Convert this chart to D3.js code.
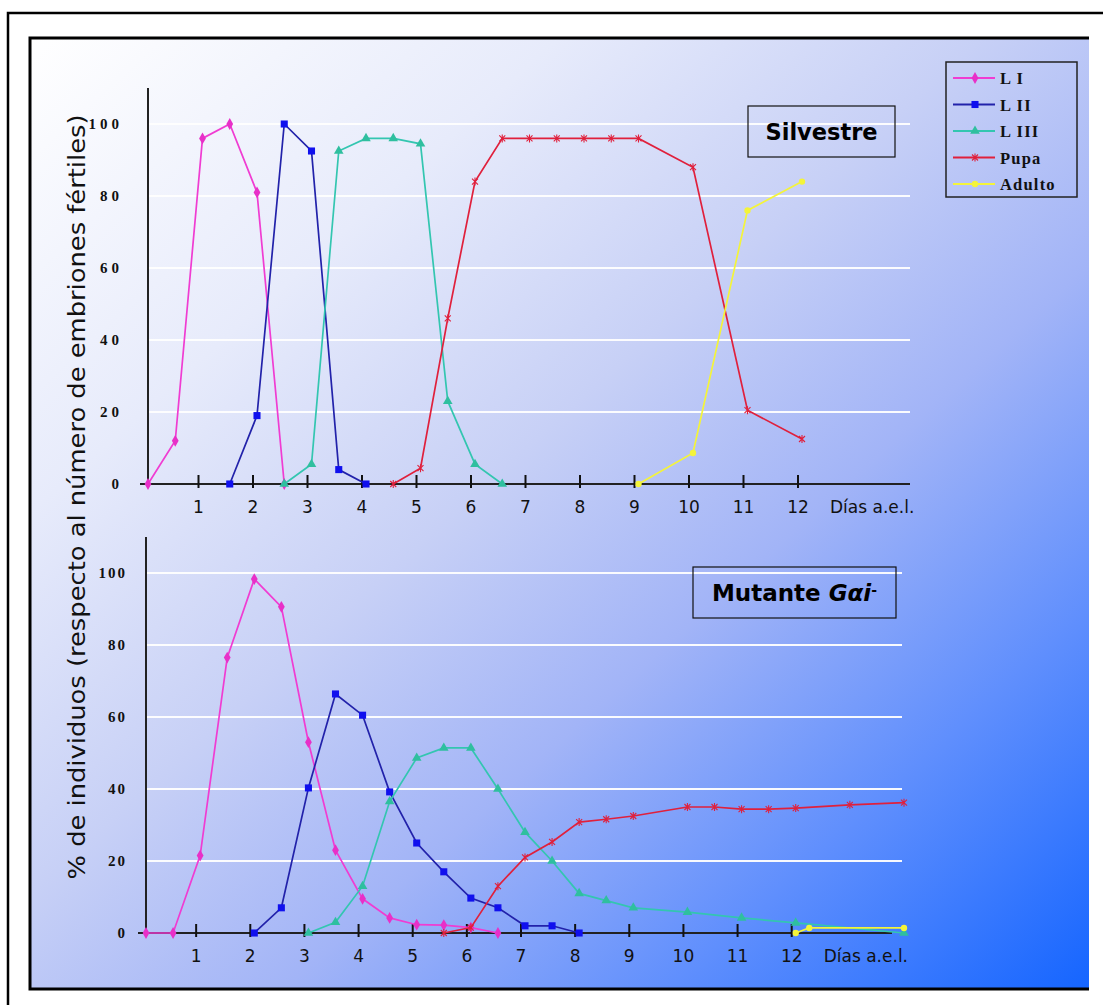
<!DOCTYPE html>
<html>
<head>
<meta charset="utf-8">
<script src="https://cdn.jsdelivr.net/npm/d3@7"></script>
<style>
  body { margin: 0; background: #fff; }
  svg { display: block; }
</style>
</head>
<body>
<div id="chart"></div>
<script>
// [day, percent] pairs
const silvestreLI = [[0, 0], [0.5, 12], [1, 96], [1.5, 100], [2, 81], [2.5, 0]];
const silvestreLII = [[1.5, 0], [2, 19], [2.5, 100], [3, 92.5], [3.5, 4], [4, 0]];
const silvestreLIII = [[2.5, 0], [3, 5.5], [3.5, 92.5], [4, 96], [4.5, 96], [5, 94.5], [5.5, 23], [6, 5.5], [6.5, 0]];
const silvestrePupa = [[4.5, 0], [5, 4.4], [5.5, 46], [6, 84], [6.5, 96], [7, 96], [7.5, 96], [8, 96], [8.5, 96], [9, 96], [10, 88], [11, 20.5], [12, 12.5]];
const silvestreAdulto = [[9, 0], [10, 8.6], [11, 76], [12, 84]];

const mutanteLI = [[0, 0], [0.5, 0], [1, 21.5], [1.5, 76.5], [2, 98.3], [2.5, 90.6], [3, 53], [3.5, 23], [4, 9.5], [4.5, 4.2], [5, 2.3], [5.5, 2.2], [6, 1.5], [6.5, 0]];
const mutanteLII = [[2, 0], [2.5, 7], [3, 40.3], [3.5, 66.4], [4, 60.5], [4.5, 39.2], [5, 25], [5.5, 17], [6, 9.7], [6.5, 7], [7, 2], [7.5, 2], [8, 0]];
const mutanteLIII = [[3, 0], [3.5, 3], [4, 13], [4.5, 36.5], [5, 48.6], [5.5, 51.4], [6, 51.4], [6.5, 40], [7, 28], [7.5, 20], [8, 11], [8.5, 9], [9, 7], [10, 5.8], [11, 4.2], [12, 2.8], [14, 0]];
const mutantePupa = [[5.5, 0], [6, 1.5], [6.5, 13], [7, 21], [7.5, 25.3], [8, 30.8], [8.5, 31.6], [9, 32.5], [10, 35], [10.5, 35], [11, 34.4], [11.5, 34.4], [12, 34.7], [13, 35.6], [14, 36.2]];
const mutanteAdulto = [[12, 0], [12.25, 1.4], [14, 1.4]];

const seriesNames = ['L I', 'L II', 'L III', 'Pupa', 'Adulto'];
const yTicks = [0, 20, 40, 60, 80, 100];
const dayTicks = [1, 2, 3, 4, 5, 6, 7, 8, 9, 10, 11, 12];

const styles = {
    'L I':    { line: '#f03cd2', fill: '#e830c8', symbol: d3.symbolDiamond, size: 40 },
    'L II':   { line: '#2222aa', fill: '#1010ee', symbol: d3.symbolSquare, size: 50 },
    'L III':  { line: '#33c6b0', fill: '#2fbf9f', symbol: d3.symbolTriangle, size: 40 },
    'Pupa':   { line: '#e0203c', fill: 'none', symbol: 'star', size: 3 },
    'Adulto': { line: '#f4f43a', fill: '#f4f43a', symbol: d3.symbolCircle, size: 32 }
};

const W = 1103, H = 1005;
const svg = d3.select('#chart').append('svg').attr('width', W).attr('height', H);

const defs = svg.append('defs');
const grad = defs.append('linearGradient').attr('id', 'bg')
    .attr('x1', 0).attr('y1', 0).attr('x2', 1).attr('y2', 1);
[[0, '#ffffff'], [0.25, '#e7ebfb'], [0.45, '#c7d0f6'], [0.62, '#a2b4f7'], [0.8, '#608ffd'], [1, '#1565ff']]
    .forEach(([o, c]) => grad.append('stop').attr('offset', o).attr('stop-color', c));

// outer frame and panel
svg.append('path').attr('d', 'M8,1005 V13 H1103').attr('fill', 'none').attr('stroke', '#000').attr('stroke-width', 2.5);
svg.append('rect').attr('x', 30).attr('y', 38).attr('width', 1059).attr('height', 951).attr('fill', 'url(#bg)');
svg.append('path').attr('d', 'M1089,38 H30 V989 H1089').attr('fill', 'none').attr('stroke', '#000').attr('stroke-width', 3);

function starPath(s) {
    return `M${-s},${-s}L${s},${s}M${-s},${s}L${s},${-s}M0,${-s - 1}V${s + 1}`;
}

function drawPanel(cfg) {
    const x = d3.scaleLinear().domain([0, 14]).range([cfg.left, cfg.right]);
    const y = d3.scaleLinear().domain([0, 110]).range([cfg.bottom, cfg.top]);
    const g = svg.append('g');

    // gridlines
    g.selectAll('line.grid').data(yTicks.filter(d => d > 0)).join('line')
        .attr('x1', x(0)).attr('x2', cfg.gridEnd)
        .attr('y1', d => y(d)).attr('y2', d => y(d))
        .attr('stroke', '#ffffff').attr('stroke-width', 2).attr('opacity', 0.95);

    // y axis
    g.append('line').attr('x1', x(0)).attr('x2', x(0)).attr('y1', y(0)).attr('y2', y(110))
        .attr('stroke', '#222').attr('stroke-width', 2);
    g.selectAll('text.yt').data(yTicks).join('text')
        .attr('x', x(0) - cfg.labelGap).attr('y', d => y(d) + 5)
        .attr('text-anchor', 'end')
        .attr('font-family', 'Liberation Serif, serif').attr('font-weight', 'bold')
        .attr('font-size', 15).attr('letter-spacing', cfg.letterSpacing)
        .attr('fill', '#111')
        .text(d => d);

    // x axis
    g.append('line').attr('x1', x(0) - 8).attr('x2', cfg.axisEnd).attr('y1', y(0)).attr('y2', y(0))
        .attr('stroke', '#222').attr('stroke-width', 2);
    g.selectAll('line.xt').data(dayTicks).join('line')
        .attr('x1', d => x(d) - 4).attr('x2', d => x(d) - 4)
        .attr('y1', y(0) - 9).attr('y2', y(0) + 4)
        .attr('stroke', '#111').attr('stroke-width', 2);
    g.selectAll('text.xl').data(dayTicks).join('text')
        .attr('x', d => x(d) - 4).attr('y', y(0) + 29)
        .attr('text-anchor', 'middle')
        .attr('font-family', 'DejaVu Sans, sans-serif').attr('font-size', 17)
        .attr('fill', '#111')
        .text(d => d);
    g.append('text').attr('x', x(12) + 28).attr('y', y(0) + 29)
        .attr('font-family', 'DejaVu Sans, sans-serif').attr('font-size', 17)
        .attr('fill', '#111').text('Días a.e.l.');

    const line = d3.line().x(d => x(d[0])).y(d => y(d[1]));
    cfg.series.forEach((data, i) => {
        const st = styles[seriesNames[i]];
        g.append('path').datum(data).attr('d', line)
            .attr('fill', 'none').attr('stroke', st.line).attr('stroke-width', 1.7);
        const m = g.selectAll(null).data(data).join('path')
            .attr('transform', d => `translate(${x(d[0])},${y(d[1])})`);
        if (st.symbol === 'star') {
            m.attr('d', starPath(st.size)).attr('stroke', st.line).attr('stroke-width', 1.1).attr('fill', 'none');
        } else {
            m.attr('d', d3.symbol().type(st.symbol).size(st.size)).attr('fill', st.fill);
        }
    });

    // title box
    const tb = cfg.titleBox;
    g.append('rect').attr('x', tb.x).attr('y', tb.y).attr('width', tb.w).attr('height', tb.h)
        .attr('fill', 'none').attr('stroke', '#111').attr('stroke-width', 1.2);
    const t = g.append('text').attr('x', tb.x + tb.w / 2).attr('y', tb.y + tb.h / 2 + 8)
        .attr('text-anchor', 'middle')
        .attr('font-family', 'DejaVu Sans, sans-serif').attr('font-weight', 'bold')
        .attr('font-size', tb.size).attr('fill', '#000');
    tb.parts.forEach(p => {
        const s = t.append('tspan').text(p.text);
        if (p.italic) s.attr('font-style', 'italic');
        if (p.sup) s.attr('baseline-shift', '45%').attr('font-size', 14);
    });
}

drawPanel({
    left: 148, right: 911, top: 88, bottom: 484, gridEnd: 910, axisEnd: 910,
    labelGap: 25, letterSpacing: 4,
    series: [silvestreLI, silvestreLII, silvestreLIII, silvestrePupa, silvestreAdulto],
    titleBox: { x: 748, y: 106, w: 147, h: 51, size: 22.5, parts: [{ text: 'Silvestre' }] }
});

drawPanel({
    left: 146, right: 904, top: 537, bottom: 933, gridEnd: 902, axisEnd: 892,
    labelGap: 19, letterSpacing: 2,
    series: [mutanteLI, mutanteLII, mutanteLIII, mutantePupa, mutanteAdulto],
    titleBox: { x: 693, y: 567, w: 203, h: 51, size: 23, parts: [{ text: 'Mutante ' }, { text: 'Gαi', italic: true }, { text: '-', sup: true }] }
});

// y axis title
svg.append('text')
    .attr('transform', 'translate(85,497) rotate(-90)')
    .attr('text-anchor', 'middle')
    .attr('font-family', 'DejaVu Sans, sans-serif').attr('font-size', 23)
    .attr('textLength', 765).attr('lengthAdjust', 'spacingAndGlyphs')
    .attr('fill', '#111')
    .text('% de individuos (respecto al número de embriones fértiles)');

// legend
const lg = svg.append('g').attr('transform', 'translate(946,62)');
lg.append('rect').attr('width', 131).attr('height', 135)
    .attr('fill', 'none').attr('stroke', '#222').attr('stroke-width', 1.5);
seriesNames.forEach((name, i) => {
    const st = styles[name];
    const yy = 16 + i * 26.5;
    lg.append('line').attr('x1', 7).attr('x2', 49).attr('y1', yy).attr('y2', yy)
        .attr('stroke', st.line).attr('stroke-width', 2);
    const m = lg.append('path').attr('transform', `translate(29,${yy})`);
    if (st.symbol === 'star') {
        m.attr('d', starPath(st.size)).attr('stroke', st.line).attr('stroke-width', 1.1).attr('fill', 'none');
    } else {
        m.attr('d', d3.symbol().type(st.symbol).size(st.size)).attr('fill', st.fill);
    }
    lg.append('text').attr('x', 54).attr('y', yy + 6)
        .attr('font-family', 'Liberation Serif, serif').attr('font-weight', 'bold')
        .attr('font-size', 16.5).attr('letter-spacing', 1.2).attr('fill', '#111')
        .text(name);
});
</script>
</body>
</html>
